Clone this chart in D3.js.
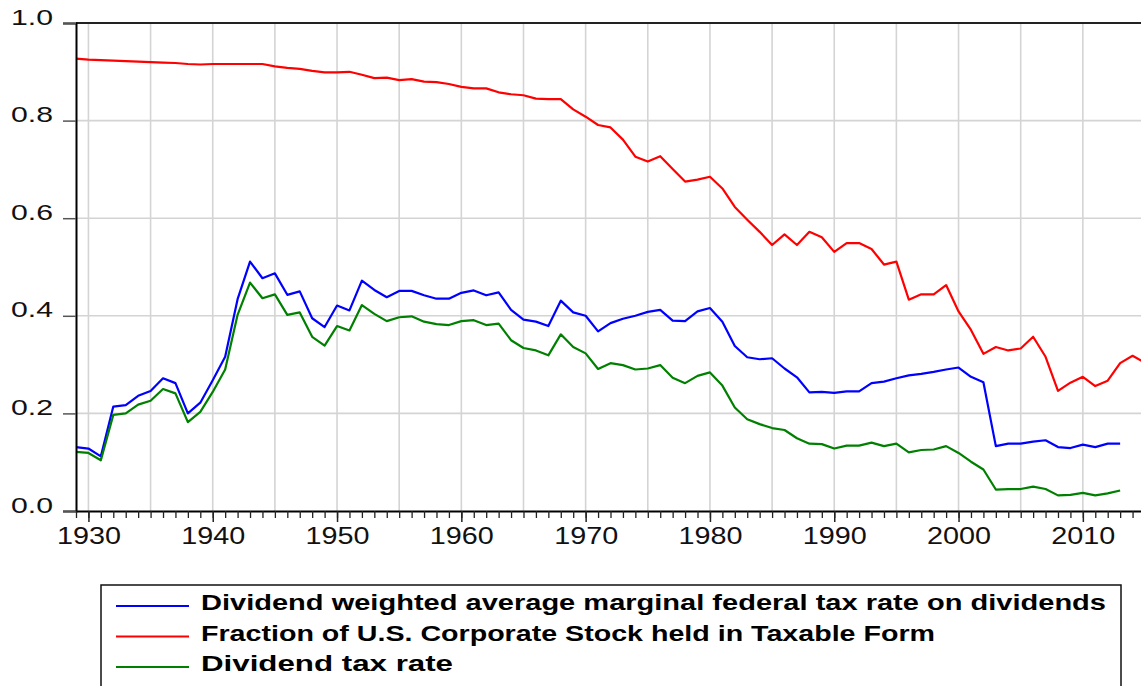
<!DOCTYPE html>
<meta charset="utf-8">
<style>
  body { margin: 0; background: #fff; }
  svg { display: block; font-family: "Liberation Sans", Arial, sans-serif; }
</style>
<body>
<script src="https://d3js.org/d3.v7.min.js"></script>
<div id="chart"></div>
<script>
  const W = 1141, H = 686;

  // data
  const yearsLong = d3.range(1929, 2016);   // red series 1929-2015
  const yearsShort = d3.range(1929, 2014);  // blue/green 1929-2013

  const taxableFraction = [
    0.927, 0.925, 0.924, 0.923, 0.922, 0.921, 0.920, 0.919, 0.918, 0.916,
    0.915, 0.916, 0.916, 0.916, 0.916, 0.916, 0.911, 0.908, 0.906, 0.902,
    0.899, 0.899, 0.900, 0.894, 0.887, 0.888, 0.883, 0.885, 0.880, 0.879,
    0.875, 0.869, 0.866, 0.866, 0.858, 0.854, 0.852, 0.845, 0.844, 0.844,
    0.823, 0.808, 0.791, 0.786, 0.761, 0.726, 0.716, 0.727, 0.701, 0.675,
    0.679, 0.685, 0.661, 0.623, 0.597, 0.572, 0.545, 0.567, 0.545, 0.572,
    0.561, 0.531, 0.549, 0.549, 0.537, 0.505, 0.511, 0.433, 0.444, 0.444,
    0.463, 0.409, 0.371, 0.322, 0.336, 0.329, 0.333, 0.357, 0.316, 0.246,
    0.263, 0.275, 0.256, 0.267, 0.303, 0.318, 0.304
  ];

  const weightedRate = [
    0.131, 0.128, 0.112, 0.214, 0.217, 0.236, 0.246, 0.272, 0.262, 0.200,
    0.222, 0.268, 0.316, 0.434, 0.511, 0.477, 0.487, 0.443, 0.450, 0.395,
    0.377, 0.421, 0.411, 0.472, 0.453, 0.438, 0.451, 0.451, 0.442, 0.435,
    0.435, 0.447, 0.452, 0.442, 0.448, 0.412, 0.392, 0.388, 0.379, 0.431,
    0.407, 0.400, 0.368, 0.385, 0.394, 0.400, 0.408, 0.412, 0.390, 0.389,
    0.409, 0.416, 0.388, 0.338, 0.315, 0.311, 0.313, 0.292, 0.274, 0.243,
    0.244, 0.242, 0.245, 0.245, 0.262, 0.265, 0.272, 0.278, 0.281, 0.285,
    0.290, 0.294, 0.275, 0.264, 0.133, 0.138, 0.138, 0.142, 0.145, 0.131,
    0.129, 0.136, 0.131, 0.138, 0.138
  ];

  const dividendTax = [
    0.121, 0.119, 0.104, 0.197, 0.200, 0.218, 0.226, 0.250, 0.241, 0.182,
    0.203, 0.244, 0.290, 0.402, 0.468, 0.436, 0.444, 0.402, 0.407, 0.357,
    0.339, 0.379, 0.370, 0.422, 0.404, 0.389, 0.397, 0.399, 0.388, 0.383,
    0.381, 0.389, 0.391, 0.381, 0.384, 0.350, 0.334, 0.329, 0.319, 0.362,
    0.336, 0.323, 0.291, 0.303, 0.299, 0.290, 0.292, 0.299, 0.273, 0.262,
    0.277, 0.284, 0.257, 0.212, 0.188, 0.178, 0.170, 0.166, 0.149, 0.138,
    0.137, 0.128, 0.134, 0.134, 0.140, 0.133, 0.138, 0.120, 0.125, 0.126,
    0.133, 0.119, 0.101, 0.085, 0.044, 0.045, 0.045, 0.050, 0.045, 0.032,
    0.033, 0.037, 0.032, 0.036, 0.042
  ];

  const yTicks = [0, 0.2, 0.4, 0.6, 0.8, 1.0];
  const xLabelTicks = [1930, 1940, 1950, 1960, 1970, 1980, 1990, 2000, 2010];
  const gridYears = d3.range(1930, 2016, 5);

  const legendLabels = [
    "Dividend weighted average marginal federal tax rate on dividends",
    "Fraction of U.S. Corporate Stock held in Taxable Form",
    "Dividend tax rate"
  ];
  const seriesColors = ["#0000ff", "#ff0000", "#008000"];

  const series = [
    { values: weightedRate, years: yearsShort, color: seriesColors[0] },
    { values: taxableFraction, years: yearsLong, color: seriesColors[1] },
    { values: dividendTax, years: yearsShort, color: seriesColors[2] }
  ];

  const x = d3.scaleLinear().domain([1929, 2015]).range([76, 1145]);
  const y = d3.scaleLinear().domain([0, 1]).range([511, 23]);

  const svg = d3.select("#chart").append("svg")
    .attr("width", W)
    .attr("height", H);

  svg.append("rect").attr("width", W).attr("height", H).attr("fill", "#fff");

  // gridlines
  const grid = svg.append("g").attr("stroke", "#d4d4d4").attr("stroke-width", 1.6);
  grid.selectAll("line.v")
    .data(gridYears)
    .join("line")
    .attr("x1", d => x(d)).attr("x2", d => x(d))
    .attr("y1", y(1)).attr("y2", y(0));
  grid.selectAll("line.h")
    .data([0.2, 0.4, 0.6, 0.8])
    .join("line")
    .attr("x1", x(1929)).attr("x2", x(2015))
    .attr("y1", d => y(d)).attr("y2", d => y(d));

  // lines
  series.forEach(s => {
    const line = d3.line()
      .x((d, i) => x(s.years[i]))
      .y(d => y(d));
    svg.append("path")
      .datum(s.values)
      .attr("fill", "none")
      .attr("stroke", s.color)
      .attr("stroke-width", 2.2)
      .attr("stroke-linejoin", "round")
      .attr("d", line);
  });

  // top frame
  svg.append("line")
    .attr("x1", x(1929)).attr("x2", x(2015))
    .attr("y1", y(1)).attr("y2", y(1))
    .attr("stroke", "#222").attr("stroke-width", 2);

  // y axis
  const yAxis = d3.axisLeft(y)
    .tickValues(yTicks)
    .tickFormat(d3.format(".1f"))
    .tickSize(13)
    .tickPadding(10);
  const gy = svg.append("g")
    .attr("transform", `translate(${x(1929)},0)`)
    .call(yAxis);
  gy.select(".domain").attr("stroke", "#000").attr("stroke-width", 2);
  gy.selectAll(".tick line").attr("stroke", "#555").attr("stroke-width", 1.5);
  gy.selectAll(".tick text")
    .attr("font-size", 22.5)
    .attr("fill", "#111")
    .attr("dy", "0.05em")
    .attr("textLength", 42)
    .attr("lengthAdjust", "spacingAndGlyphs");

  // x axis: minor ticks every year, major every decade
  const xMinor = d3.axisBottom(x)
    .tickValues(d3.range(1929, 2016))
    .tickFormat("")
    .tickSize(7)
    .tickSizeOuter(0);
  const gxm = svg.append("g")
    .attr("transform", `translate(0,${y(0)})`)
    .call(xMinor);
  gxm.select(".domain").attr("stroke", "#000").attr("stroke-width", 2);
  gxm.selectAll(".tick line").attr("stroke", "#222").attr("stroke-width", 1.3);

  const xMajor = d3.axisBottom(x)
    .tickValues(xLabelTicks)
    .tickFormat(d3.format("d"))
    .tickSize(11)
    .tickSizeOuter(0)
    .tickPadding(6);
  const gx = svg.append("g")
    .attr("transform", `translate(0,${y(0)})`)
    .call(xMajor);
  gx.select(".domain").remove();
  gx.selectAll(".tick line").attr("stroke", "#222").attr("stroke-width", 1.5);
  gx.selectAll(".tick text")
    .attr("font-size", 23)
    .attr("fill", "#111")
    .attr("textLength", 64)
    .attr("lengthAdjust", "spacingAndGlyphs");

  // legend
  const legend = svg.append("g");
  legend.append("rect")
    .attr("x", 101).attr("y", 585)
    .attr("width", 1020).attr("height", 130)
    .attr("fill", "#fff")
    .attr("stroke", "#111").attr("stroke-width", 1.5);

  const legendWidths = [905, 734, 252];
  legendLabels.forEach((label, i) => {
    const ly = 606 + i * 30.5;
    legend.append("line")
      .attr("x1", 116).attr("x2", 189)
      .attr("y1", ly).attr("y2", ly)
      .attr("stroke", seriesColors[i]).attr("stroke-width", 2);
    legend.append("text")
      .attr("x", 201).attr("y", ly + 4)
      .attr("font-size", 22)
      .attr("font-weight", "bold")
      .attr("fill", "#000")
      .attr("textLength", legendWidths[i])
      .attr("lengthAdjust", "spacingAndGlyphs")
      .text(label);
  });
</script>
</body>
